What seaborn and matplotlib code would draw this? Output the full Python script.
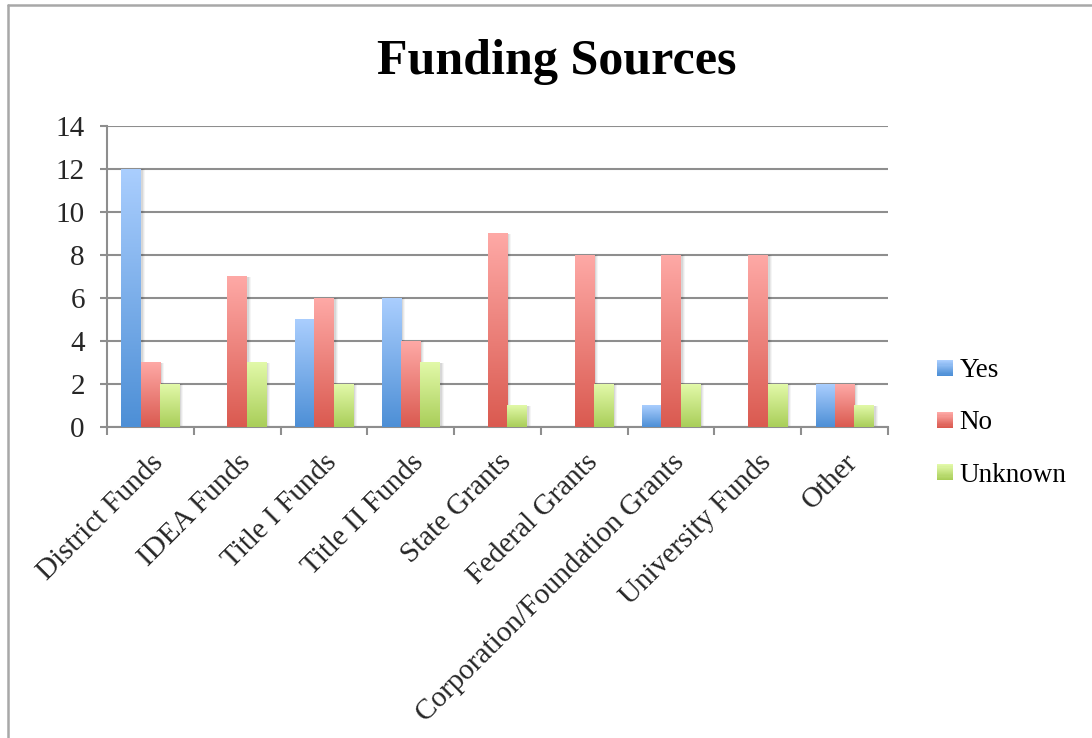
import numpy as np
import pandas as pd
import matplotlib
matplotlib.use("Agg")
import matplotlib.pyplot as plt
import matplotlib.transforms as mtransforms
import seaborn as sns
from matplotlib.colors import LinearSegmentedColormap
from matplotlib.legend_handler import HandlerBase
from matplotlib.patches import Rectangle
from matplotlib.lines import Line2D

# ---- data -------------------------------------------------------------
categories = [
    "District Funds", "IDEA Funds", "Title I Funds", "Title II Funds",
    "State Grants", "Federal Grants", "Corporation/Foundation Grants",
    "University Funds", "Other",
]
series = ["Yes", "No", "Unknown"]
yes_counts = [12, 0, 5, 6, 0, 0, 1, 0, 2]
no_counts = [3, 7, 6, 4, 9, 8, 8, 8, 2]
unknown_counts = [2, 3, 2, 3, 1, 2, 2, 2, 1]
y_ticks = [0, 2, 4, 6, 8, 10, 12, 14]
title = "Funding Sources"

# gradient colours per series: (bottom, top)
grad_colors = {
    "Yes": ("#4d8fd6", "#aacefe"),
    "No": ("#da5a50", "#fea9a6"),
    "Unknown": ("#a9ce59", "#e2f9a9"),
}

df = pd.DataFrame({
    "Source": categories * 3,
    "Response": np.repeat(series, len(categories)),
    "Count": yes_counts + no_counts + unknown_counts,
})

sns.set_theme(style="white")
plt.rcParams["font.family"] = ["Liberation Serif", "DejaVu Serif"]
plt.rcParams["text.color"] = "black"

W, H = 1092, 738
fig = plt.figure(figsize=(W / 100, H / 100), dpi=100)
fig.patch.set_facecolor("white")
ax = fig.add_axes([107 / W, 1 - 427 / H, (888 - 107) / W, (427 - 126) / H])

mid_palette = {k: LinearSegmentedColormap.from_list(k, v)(0.5) for k, v in grad_colors.items()}
sns.barplot(data=df, x="Source", y="Count", hue="Response", hue_order=series,
            order=categories, palette=mid_palette, width=0.67, saturation=1,
            legend=False, ax=ax)

# replace flat fills with vertical gradients (dark at base, light on top)
grad = np.linspace(0, 1, 256).reshape(-1, 1)
for name, container in zip(series, ax.containers):
    cmap = LinearSegmentedColormap.from_list(name, grad_colors[name])
    for bar in container:
        x0, w, h = bar.get_x(), bar.get_width(), bar.get_height()
        bar.set_facecolor("none")
        bar.set_edgecolor("none")
        if h <= 0:
            continue
        # soft shadow to the right
        for k, a in [(4, 0.04), (3, 0.05), (2, 0.07)]:
            tr = mtransforms.offset_copy(ax.transData, fig=fig, x=k, y=0, units="dots")
            ax.add_patch(Rectangle((x0, 0), w, h, facecolor="black", alpha=a,
                                   edgecolor="none", transform=tr, zorder=2))
        ax.imshow(grad, extent=[x0, x0 + w, 0, h], origin="lower", cmap=cmap,
                  aspect="auto", interpolation="bicubic", zorder=3)

ax.set_xlim(-0.5, len(categories) - 0.5)
ax.set_ylim(0, 14)
ax.set_aspect("auto")

# axes styling
grid_c = "#8e8e8e"
ax.set_yticks(y_ticks)
ax.yaxis.grid(True, color=grid_c, linewidth=1.5)
ax.xaxis.grid(False)
ax.set_axisbelow(True)
for s in ["top", "right"]:
    ax.spines[s].set_visible(False)
for s in ["left", "bottom"]:
    ax.spines[s].set_color(grid_c)
    ax.spines[s].set_linewidth(1.5)
ax.set_xlabel("")
ax.set_ylabel("")

ax.tick_params(axis="y", which="major", direction="out", length=5, width=1.5,
               color=grid_c, labelsize=21, pad=11, left=True)
ax.set_xticks(range(len(categories)))
ax.set_xticks(np.arange(-0.5, len(categories), 1), minor=True)
ax.tick_params(axis="x", which="major", length=0, labelsize=21, pad=16)
ax.tick_params(axis="x", which="minor", direction="out", length=6, width=1.5,
               color=grid_c, bottom=True)
ax.set_xticklabels(categories, rotation=45, ha="right", rotation_mode="anchor")

# legend with gradient swatches
class GradientSwatch(HandlerBase):
    def __init__(self, colors, n=14):
        super().__init__()
        self.cmap = LinearSegmentedColormap.from_list("sw", colors)
        self.n = n

    def create_artists(self, legend, orig_handle, xdescent, ydescent,
                       width, height, fontsize, trans):
        arts = []
        side = min(width, height)
        y0 = -ydescent + (height - side) / 2
        for i in range(self.n):
            arts.append(Rectangle((-xdescent, y0 + side * i / self.n), side,
                                  side / self.n * 1.05,
                                  facecolor=self.cmap(i / (self.n - 1)),
                                  edgecolor="none", transform=trans))
        return arts

handles = [Rectangle((0, 0), 1, 1) for _ in series]
hmap = {h: GradientSwatch(grad_colors[s]) for h, s in zip(handles, series)}
fig.legend(handles, series, handler_map=hmap, loc="center left",
           bbox_to_anchor=(937 / W, 1 - 423 / H), frameon=False,
           fontsize=19.5, handlelength=0.58, handleheight=0.58,
           handletextpad=0.25, labelspacing=1.0, borderpad=0, borderaxespad=0)

fig.text(557 / W, 1 - 62 / H, title, ha="center", va="center",
         fontsize=36, fontweight="bold")

# outer frame (left and top edges)
frame_c = "#a8a8a8"
fig.add_artist(Line2D([7.5 / W, 7.5 / W], [0, 1 - 4.5 / H], transform=fig.transFigure,
                      color=frame_c, linewidth=1.8))
fig.add_artist(Line2D([7.5 / W, 1], [1 - 4.5 / H, 1 - 4.5 / H], transform=fig.transFigure,
                      color=frame_c, linewidth=1.8))

fig.savefig("out.png", dpi=100, facecolor="white")
